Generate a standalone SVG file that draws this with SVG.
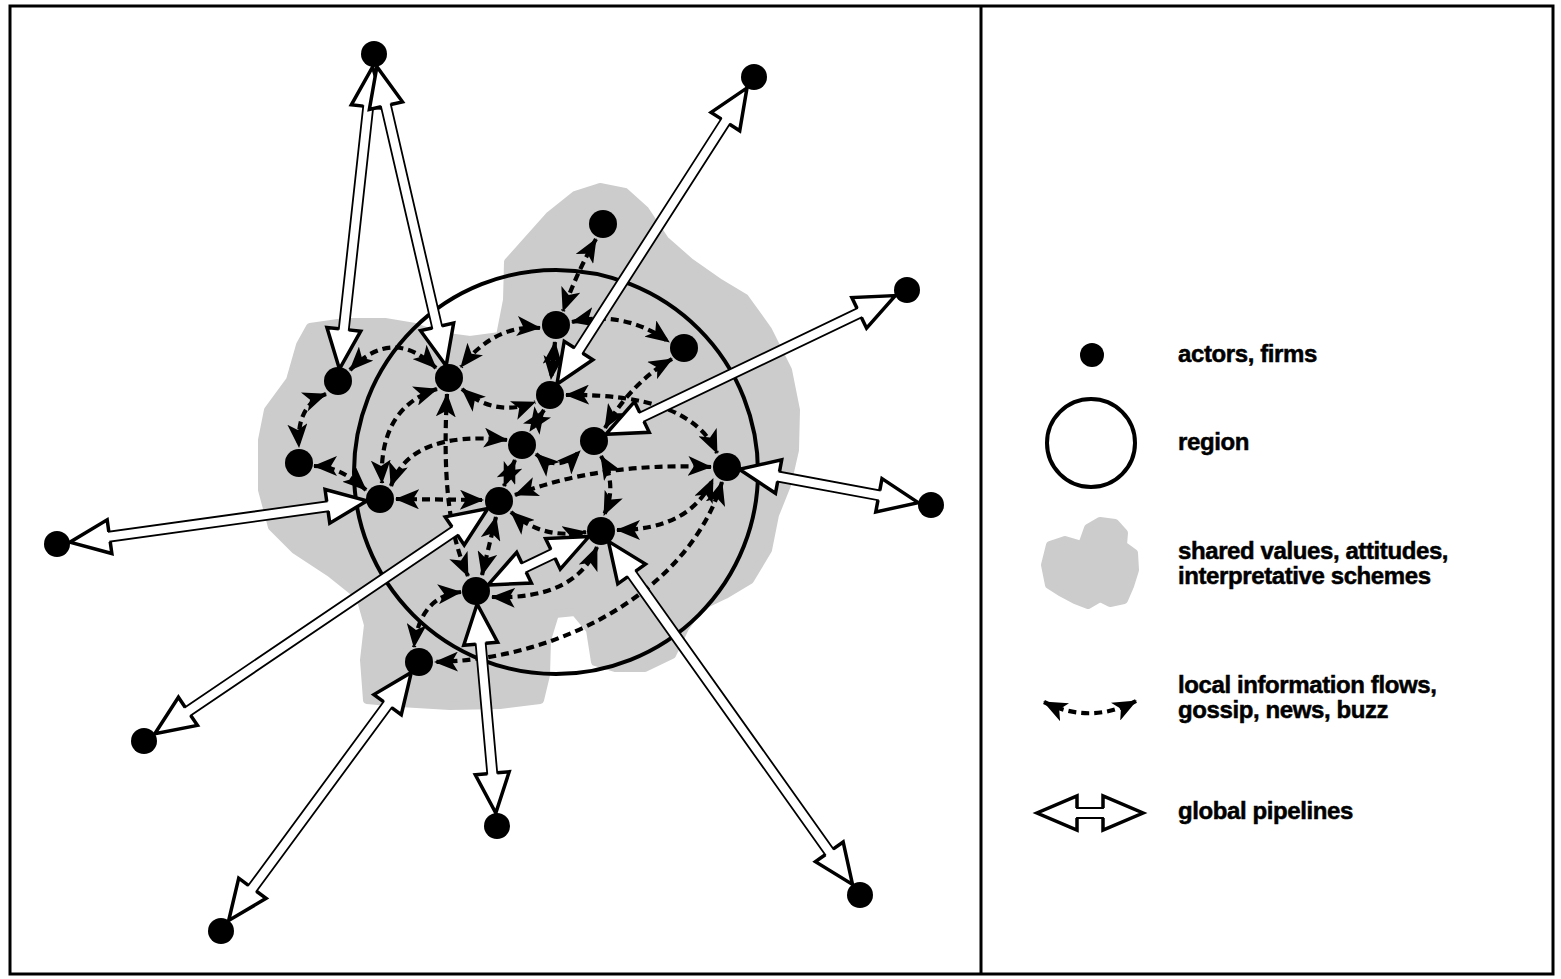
<svg xmlns="http://www.w3.org/2000/svg" width="1561" height="979" viewBox="0 0 1561 979">
<style>
.frame{fill:none;stroke:#000;stroke-width:3}
.blob{fill:#cccccc;stroke:#cccccc;stroke-width:8;stroke-linejoin:round}
.region{fill:none;stroke:#000;stroke-width:4}
.flow{fill:none;stroke:#000;stroke-width:4.2;stroke-dasharray:8 5;marker-start:url(#ah);marker-end:url(#ah)}
.pb{fill:#fff;stroke:#000;stroke-width:1.8;stroke-linejoin:miter}
.ph{fill:none;stroke:#000;stroke-width:3.5;stroke-linejoin:miter}
.actor{fill:#000}
.lbl{font-family:"Liberation Sans",Arial,sans-serif;font-weight:bold;font-size:24px;letter-spacing:-0.4px;fill:#000;stroke:#000;stroke-width:0.5}
</style>
<defs>
<marker id="ah" viewBox="0 0 24 20" refX="23" refY="10" markerWidth="24" markerHeight="20" markerUnits="userSpaceOnUse" orient="auto-start-reverse">
<path d="M0,0 L24,10 L0,20 L6,10 z" fill="#000"/>
</marker>
</defs>
<rect width="1561" height="979" fill="#fff"/>
<g id="frame">
<rect class="frame" x="10" y="6" width="1543" height="968"/>
<line x1="981" y1="6" x2="981" y2="974" stroke="#000" stroke-width="3"/>
</g>
<g id="shared-values">
<polygon class="blob" points="310,327 345,322 385,322 415,327 440,336 470,340 500,336 507,300 508,262 525,243 550,215 575,195 600,187 625,192 645,210 665,240 690,262 720,283 745,298 768,330 788,370 796,410 795,450 787,485 775,515 768,550 750,580 725,595 700,607 685,628 672,655 645,668 615,668 595,662 590,630 575,612 555,614 547,640 546,675 540,700 500,705 450,706 400,703 367,700 364,660 368,625 360,597 330,573 295,550 272,527 262,490 262,440 268,410 290,380 300,345"/>
</g>
<g id="region">
<circle class="region" cx="556" cy="472" r="202"/>
</g>
<g id="local-flows">
<path class="flow" d="M596,239 Q577,272 563,311"/>
<path class="flow" d="M540,328 Q495,324 461,367"/>
<path class="flow" d="M572,322 Q625,310 669,342"/>
<path class="flow" d="M555,342 L551,379"/>
<path class="flow" d="M350,370 Q393,326 436,368"/>
<path class="flow" d="M326,394 Q296,405 299,447"/>
<path class="flow" d="M314,466 Q340,466 366,490"/>
<path class="flow" d="M462,389 Q495,418 535,402"/>
<path class="flow" d="M437,389 Q378,408 382,483"/>
<path class="flow" d="M447,394 C443,470 447,530 468,576"/>
<path class="flow" d="M391,486 Q410,430 507,440"/>
<path class="flow" d="M396,499 L483,500"/>
<path class="flow" d="M566,395 Q690,393 717,453"/>
<path class="flow" d="M672,359 Q632,382 605,428"/>
<path class="flow" d="M544,410 L530,431"/>
<path class="flow" d="M515,460 L504,486"/>
<path class="flow" d="M536,454 Q558,474 580,451"/>
<path class="flow" d="M515,495 Q600,462 711,467"/>
<path class="flow" d="M601,456 Q618,485 604,515"/>
<path class="flow" d="M511,512 Q542,540 586,532"/>
<path class="flow" d="M617,530 Q690,530 713,479"/>
<path class="flow" d="M722,482 C690,590 560,660 435,662"/>
<path class="flow" d="M597,547 Q575,600 492,597"/>
<path class="flow" d="M461,592 Q420,596 414,647"/>
<path class="flow" d="M496,517 L482,575"/>
</g>
<g id="global-pipelines">
<g transform="translate(372.6,66.9) rotate(96.26)"><polygon class="pb" points="0,0 40,-17 40,-5 264,-5 264,-17 304,0 264,17 264,5 40,5 40,17"/><polyline class="ph" points="40,-5 40,-17 0,0 40,17 40,5"/><polyline class="ph" points="264,-5 264,-17 304,0 264,17 264,5"/></g>
<g transform="translate(376.9,66.7) rotate(76.97)"><polygon class="pb" points="0,0 40,-17 40,-5 267,-5 267,-17 307,0 267,17 267,5 40,5 40,17"/><polyline class="ph" points="40,-5 40,-17 0,0 40,17 40,5"/><polyline class="ph" points="267,-5 267,-17 307,0 267,17 267,5"/></g>
<g transform="translate(747,87.9) rotate(122.68)"><polygon class="pb" points="0,0 40,-17 40,-5 312,-5 312,-17 352,0 312,17 312,5 40,5 40,17"/><polyline class="ph" points="40,-5 40,-17 0,0 40,17 40,5"/><polyline class="ph" points="312,-5 312,-17 352,0 312,17 312,5"/></g>
<g transform="translate(895.3,295.6) rotate(154.4)"><polygon class="pb" points="0,0 40,-17 40,-5 281,-5 281,-17 321,0 281,17 281,5 40,5 40,17"/><polyline class="ph" points="40,-5 40,-17 0,0 40,17 40,5"/><polyline class="ph" points="281,-5 281,-17 321,0 281,17 281,5"/></g>
<g transform="translate(918.2,502.6) rotate(190.55)"><polygon class="pb" points="0,0 40,-17 40,-5 142,-5 142,-17 182,0 142,17 142,5 40,5 40,17"/><polyline class="ph" points="40,-5 40,-17 0,0 40,17 40,5"/><polyline class="ph" points="142,-5 142,-17 182,0 142,17 142,5"/></g>
<g transform="translate(69.9,542.2) rotate(-7.93)"><polygon class="pb" points="0,0 40,-17 40,-5 260,-5 260,-17 300,0 260,17 260,5 40,5 40,17"/><polyline class="ph" points="40,-5 40,-17 0,0 40,17 40,5"/><polyline class="ph" points="260,-5 260,-17 300,0 260,17 260,5"/></g>
<g transform="translate(154.8,733.7) rotate(-34.06)"><polygon class="pb" points="0,0 40,-17 40,-5 362,-5 362,-17 402,0 362,17 362,5 40,5 40,17"/><polyline class="ph" points="40,-5 40,-17 0,0 40,17 40,5"/><polyline class="ph" points="362,-5 362,-17 402,0 362,17 362,5"/></g>
<g transform="translate(495.8,813.1) rotate(-95.1)"><polygon class="pb" points="0,0 40,-17 40,-5 170,-5 170,-17 210,0 170,17 170,5 40,5 40,17"/><polyline class="ph" points="40,-5 40,-17 0,0 40,17 40,5"/><polyline class="ph" points="170,-5 170,-17 210,0 170,17 170,5"/></g>
<g transform="translate(852.5,884.4) rotate(-125.43)"><polygon class="pb" points="0,0 40,-17 40,-5 381,-5 381,-17 421,0 381,17 381,5 40,5 40,17"/><polyline class="ph" points="40,-5 40,-17 0,0 40,17 40,5"/><polyline class="ph" points="381,-5 381,-17 421,0 381,17 381,5"/></g>
<g transform="translate(228.7,920.5) rotate(-53.64)"><polygon class="pb" points="0,0 40,-17 40,-5 268,-5 268,-17 308,0 268,17 268,5 40,5 40,17"/><polyline class="ph" points="40,-5 40,-17 0,0 40,17 40,5"/><polyline class="ph" points="268,-5 268,-17 308,0 268,17 268,5"/></g>
<g transform="translate(488,585) rotate(-25.64)"><polygon class="pb" points="0,0 40,-17 40,-5 72,-5 72,-17 112,0 72,17 72,5 40,5 40,17"/><polyline class="ph" points="40,-5 40,-17 0,0 40,17 40,5"/><polyline class="ph" points="72,-5 72,-17 112,0 72,17 72,5"/></g>
</g>
<g id="actors">
<circle id="nA" class="actor" cx="338" cy="381" r="14"/>
<circle id="nB" class="actor" cx="449" cy="378" r="14"/>
<circle id="nC" class="actor" cx="603" cy="224" r="14"/>
<circle id="nD" class="actor" cx="556" cy="325" r="14"/>
<circle id="nE" class="actor" cx="684" cy="348" r="14"/>
<circle id="nF" class="actor" cx="550" cy="395" r="14"/>
<circle id="nG" class="actor" cx="522" cy="445" r="14"/>
<circle id="nH" class="actor" cx="594" cy="441" r="14"/>
<circle id="nI" class="actor" cx="299" cy="463" r="14"/>
<circle id="nJ" class="actor" cx="380" cy="499" r="14"/>
<circle id="nK" class="actor" cx="499" cy="501" r="14"/>
<circle id="nL" class="actor" cx="727" cy="467" r="14"/>
<circle id="nM" class="actor" cx="601" cy="531" r="14"/>
<circle id="nN" class="actor" cx="476" cy="591" r="14"/>
<circle id="nP" class="actor" cx="419" cy="662" r="14"/>
<circle id="o1" class="actor" cx="374" cy="54" r="13"/>
<circle id="o2" class="actor" cx="754" cy="77" r="13"/>
<circle id="o3" class="actor" cx="907" cy="290" r="13"/>
<circle id="o4" class="actor" cx="931" cy="505" r="13"/>
<circle id="o5" class="actor" cx="57" cy="544" r="13"/>
<circle id="o6" class="actor" cx="144" cy="741" r="13"/>
<circle id="o7" class="actor" cx="497" cy="826" r="13"/>
<circle id="o8" class="actor" cx="860" cy="895" r="13"/>
<circle id="o9" class="actor" cx="221" cy="931" r="13"/>
</g>
<g id="legend">
<g id="leg-actor"><circle class="actor" cx="1092" cy="355" r="12"/><text class="lbl" x="1178" y="362">actors, firms</text></g>
<g id="leg-region"><circle class="region" cx="1091" cy="443" r="44"/><text class="lbl" x="1178" y="450">region</text></g>
<g id="leg-shared"><polygon class="blob" stroke-width="5" points="1050,545 1065,540 1082,545 1088,528 1100,521 1115,523 1124,533 1123,545 1134,553 1135,570 1130,586 1124,600 1110,603 1100,598 1088,605 1075,600 1060,592 1049,585 1045,565"/><text class="lbl" x="1178" y="559">shared values, attitudes,</text><text class="lbl" x="1178" y="584">interpretative schemes</text></g>
<g id="leg-flow"><path class="flow" d="M1044,702 Q1090,725 1136,701"/><text class="lbl" x="1178" y="693">local information flows,</text><text class="lbl" x="1178" y="718">gossip, news, buzz</text></g>
<g id="leg-pipeline"><g transform="translate(1037,813)"><polygon class="pb" points="0,0 40,-17 40,-5 66,-5 66,-17 106,0 66,17 66,5 40,5 40,17"/><polyline class="ph" points="40,-5 40,-17 0,0 40,17 40,5"/><polyline class="ph" points="66,-5 66,-17 106,0 66,17 66,5"/></g><text class="lbl" x="1178" y="819">global pipelines</text></g>
</g>
</svg>
